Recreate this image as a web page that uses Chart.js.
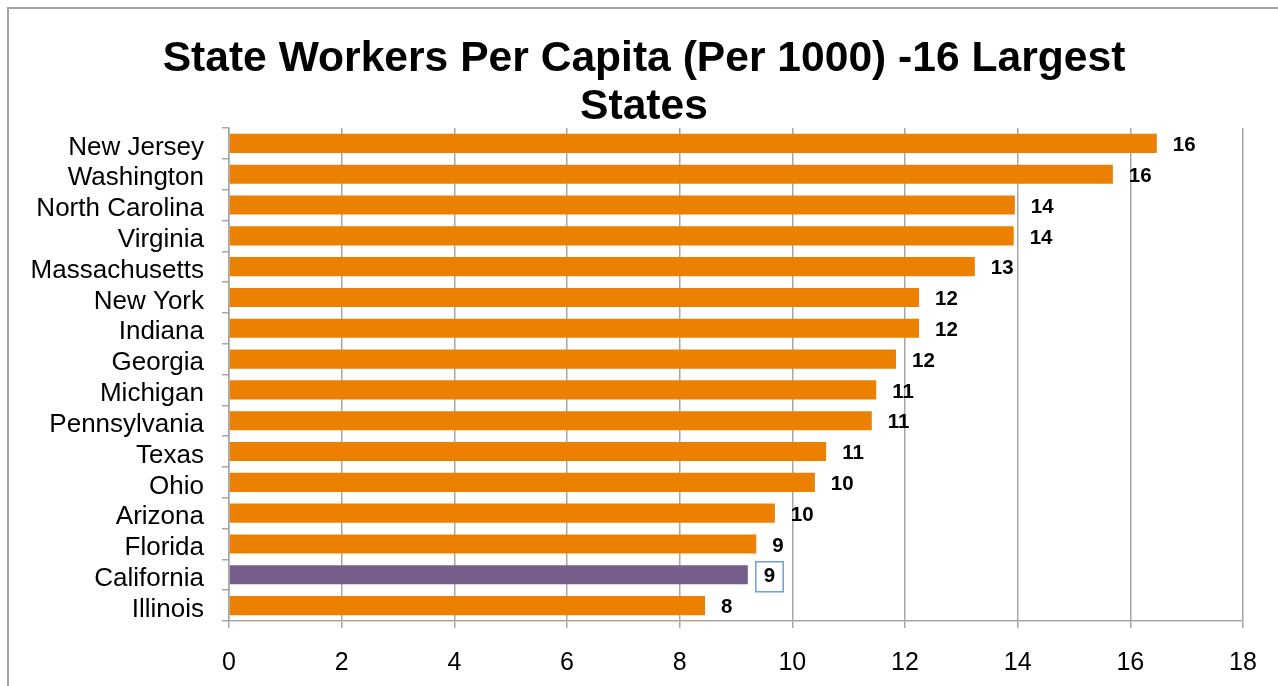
<!DOCTYPE html>
<html>
<head>
<meta charset="utf-8">
<title>State Workers Per Capita</title>
<script src="https://cdn.jsdelivr.net/npm/chart.js@4.4.0/dist/chart.umd.min.js"></script>
<style>
  html, body { margin: 0; padding: 0; background: #fff; overflow: hidden; }
  #frame { position: absolute; left: 7px; top: 7px; width: 1400px; height: 800px; border: 2px solid #a3a3a3; }
  #chart { position: absolute; left: 0; top: 0; }
</style>
</head>
<body>
<div id="frame"></div>
<canvas id="chart" width="1278" height="686"></canvas>
<script>
// data
const states = [
  "New Jersey", "Washington", "North Carolina", "Virginia", "Massachusetts",
  "New York", "Indiana", "Georgia", "Michigan", "Pennsylvania",
  "Texas", "Ohio", "Arizona", "Florida", "California", "Illinois"
];
const perThousand = [
  16.47, 15.69, 13.95, 13.93, 13.24,
  12.25, 12.25, 11.84, 11.49, 11.41,
  10.6, 10.4, 9.69, 9.36, 9.21, 8.45
];
const highlightState = "California";
const xMin = 0;
const xMax = 18;
const xStep = 2;
const titleLines = ["State Workers Per Capita (Per 1000) -16 Largest", "States"];

const FONT = "'Liberation Sans', Arial, Helvetica, sans-serif";
const ORANGE = "#ec8000";
const PURPLE = "#755f8b";
const GRID = "#a6a6a6";

// title drawn by hand so it can sit centred on the whole frame
const chartTitle = {
  id: "chartTitle",
  afterDraw(chart) {
    const { ctx } = chart;
    ctx.save();
    ctx.font = "bold 42.6px " + FONT;
    ctx.fillStyle = "#000";
    ctx.textAlign = "center";
    ctx.textBaseline = "alphabetic";
    titleLines.forEach((line, i) => ctx.fillText(line, 644, 71 + i * 47.5));
    ctx.restore();
  }
};

// value labels at the end of each bar (rounded like the Excel "0" format)
const valueLabels = {
  id: "valueLabels",
  afterDatasetsDraw(chart) {
    const { ctx } = chart;
    const meta = chart.getDatasetMeta(0);
    ctx.save();
    ctx.font = "bold 20.5px " + FONT;
    ctx.fillStyle = "#000";
    ctx.textBaseline = "middle";
    ctx.textAlign = "left";
    meta.data.forEach((bar, i) => {
      const text = String(Math.round(perThousand[i]));
      const x = bar.x + 16;
      const y = bar.y + 2;
      ctx.fillText(text, x, y);
      if (states[i] === highlightState) {
        const w = ctx.measureText(text).width;
        ctx.strokeStyle = "#6f9fd4";
        ctx.lineWidth = 1.5;
        ctx.strokeRect(x - 8, y - 15, w + 16, 30);
      }
    });
    ctx.restore();
  }
};

new Chart(document.getElementById("chart"), {
  type: "bar",
  data: {
    labels: states,
    datasets: [{
      data: perThousand,
      backgroundColor: states.map((s) => (s === highlightState ? PURPLE : ORANGE)),
      borderWidth: 0,
      barPercentage: 0.62,
      categoryPercentage: 1
    }]
  },
  options: {
    indexAxis: "y",
    responsive: false,
    animation: false,
    devicePixelRatio: 1,
    layout: { padding: { left: 0, right: 35, top: 128, bottom: 0 } },
    plugins: {
      legend: { display: false },
      tooltip: { enabled: false },
      title: { display: false }
    },
    scales: {
      x: {
        type: "linear",
        min: xMin,
        max: xMax,
        afterFit: (scale) => { scale.height = 65; },
        ticks: {
          stepSize: xStep,
          color: "#000",
          font: { family: FONT, size: 25 },
          padding: 20
        },
        grid: { color: GRID, lineWidth: 1.5, tickLength: 7 },
        border: { color: GRID, width: 1.5 }
      },
      y: {
        afterFit: (scale) => { scale.width = 229; },
        ticks: {
          autoSkip: false,
          color: "#000",
          font: { family: FONT, size: 26 },
          padding: 18,
          labelOffset: 4
        },
        grid: { drawOnChartArea: false, color: GRID, lineWidth: 1.5, tickLength: 7 },
        border: { color: GRID, width: 1.5 }
      }
    }
  },
  plugins: [valueLabels, chartTitle]
});
</script>
</body>
</html>
